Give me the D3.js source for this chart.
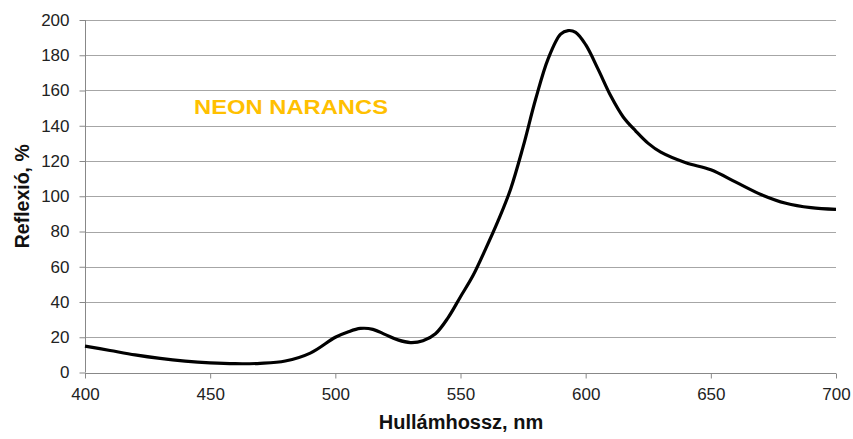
<!DOCTYPE html>
<html>
<head>
<meta charset="utf-8">
<script src="https://cdn.jsdelivr.net/npm/d3@7"></script>
<style>
  body { margin: 0; background: #fff; }
  text { font-family: Arial, "Liberation Sans", sans-serif; }
</style>
</head>
<body>
<script>
const width = 853, height = 439;

// wavelength (nm) and reflection (%)
const wavelengths = [400, 410, 420, 430, 440, 450, 460, 470, 480, 490, 500, 505, 510, 515, 520, 525, 530, 535, 540, 545, 550, 555, 560, 565, 570, 575, 580, 585, 590, 593, 596, 600, 605, 610, 615, 620, 625, 630, 640, 650, 660, 670, 680, 690, 700];
const reflection = [15, 12.5, 10, 8, 6.5, 5.5, 5, 5.2, 6.5, 11, 20, 23, 25, 24.5, 21.5, 18.5, 17, 18, 22, 31, 43, 55, 70, 86, 104, 128, 155, 178, 192, 194, 193, 186, 172, 157, 145, 137, 130, 125, 119, 115, 108, 101, 96, 93.5, 92.5];
const xTicks = [400, 450, 500, 550, 600, 650, 700];
const yTicks = [0, 20, 40, 60, 80, 100, 120, 140, 160, 180, 200];

const x = d3.scaleLinear().domain([400, 700]).range([85, 836]);
const y = d3.scaleLinear().domain([0, 200]).range([372.5, 20]);

const svg = d3.select('body').append('svg')
	.attr('width', width)
	.attr('height', height);

// gridlines
svg.append('g')
	.selectAll('line')
	.data(yTicks)
	.join('line')
	.attr('x1', x(400)).attr('x2', x(700))
	.attr('y1', d => Math.round(y(d)) + 0.5).attr('y2', d => Math.round(y(d)) + 0.5)
	.attr('stroke', '#a6a6a6');

const yAxis = svg.append('g')
	.attr('transform', `translate(${Math.round(x(400)) + 0.5},0)`)
	.call(d3.axisLeft(y).tickValues(yTicks).tickSize(6).tickPadding(10));

const xAxis = svg.append('g')
	.attr('transform', `translate(0,${Math.round(y(0)) + 0.5})`)
	.call(d3.axisBottom(x).tickValues(xTicks).tickSize(5).tickPadding(9));

[yAxis, xAxis].forEach(a => {
	a.select('.domain').attr('stroke', '#888');
	a.selectAll('.tick line').attr('stroke', '#888');
	a.selectAll('.tick text')
		.attr('font-size', 17)
		.attr('fill', '#222')
		.style('font-family', 'Arial, "Liberation Sans", sans-serif');
});
// drop the outer tick stubs of the domain path
yAxis.select('.domain').attr('d', `M0,${y(200)}V${y(0)}`);
xAxis.select('.domain').attr('d', `M${x(400)},0H${x(700)}`);

const line = d3.line()
	.x((d, i) => x(wavelengths[i]))
	.y(d => y(d))
	.curve(d3.curveCatmullRom.alpha(0.5));

svg.append('path')
	.datum(reflection)
	.attr('d', line)
	.attr('fill', 'none')
	.attr('stroke', '#000')
	.attr('stroke-width', 3.2)
	.attr('stroke-linejoin', 'round');

svg.append('text')
	.attr('x', 194).attr('y', 114)
	.attr('font-size', 21)
	.attr('font-weight', 'bold')
	.attr('fill', '#ffc000')
	.attr('textLength', 194)
	.attr('lengthAdjust', 'spacingAndGlyphs')
	.text('NEON NARANCS');

svg.append('text')
	.attr('x', 461).attr('y', 429)
	.attr('text-anchor', 'middle')
	.attr('font-size', 20)
	.attr('font-weight', 'bold')
	.attr('fill', '#111')
	.text('Hullámhossz, nm');

svg.append('text')
	.attr('transform', `translate(29,${y(100)}) rotate(-90)`)
	.attr('text-anchor', 'middle')
	.attr('font-size', 19.5)
	.attr('font-weight', 'bold')
	.attr('fill', '#111')
	.text('Reflexió, %');
</script>
</body>
</html>
